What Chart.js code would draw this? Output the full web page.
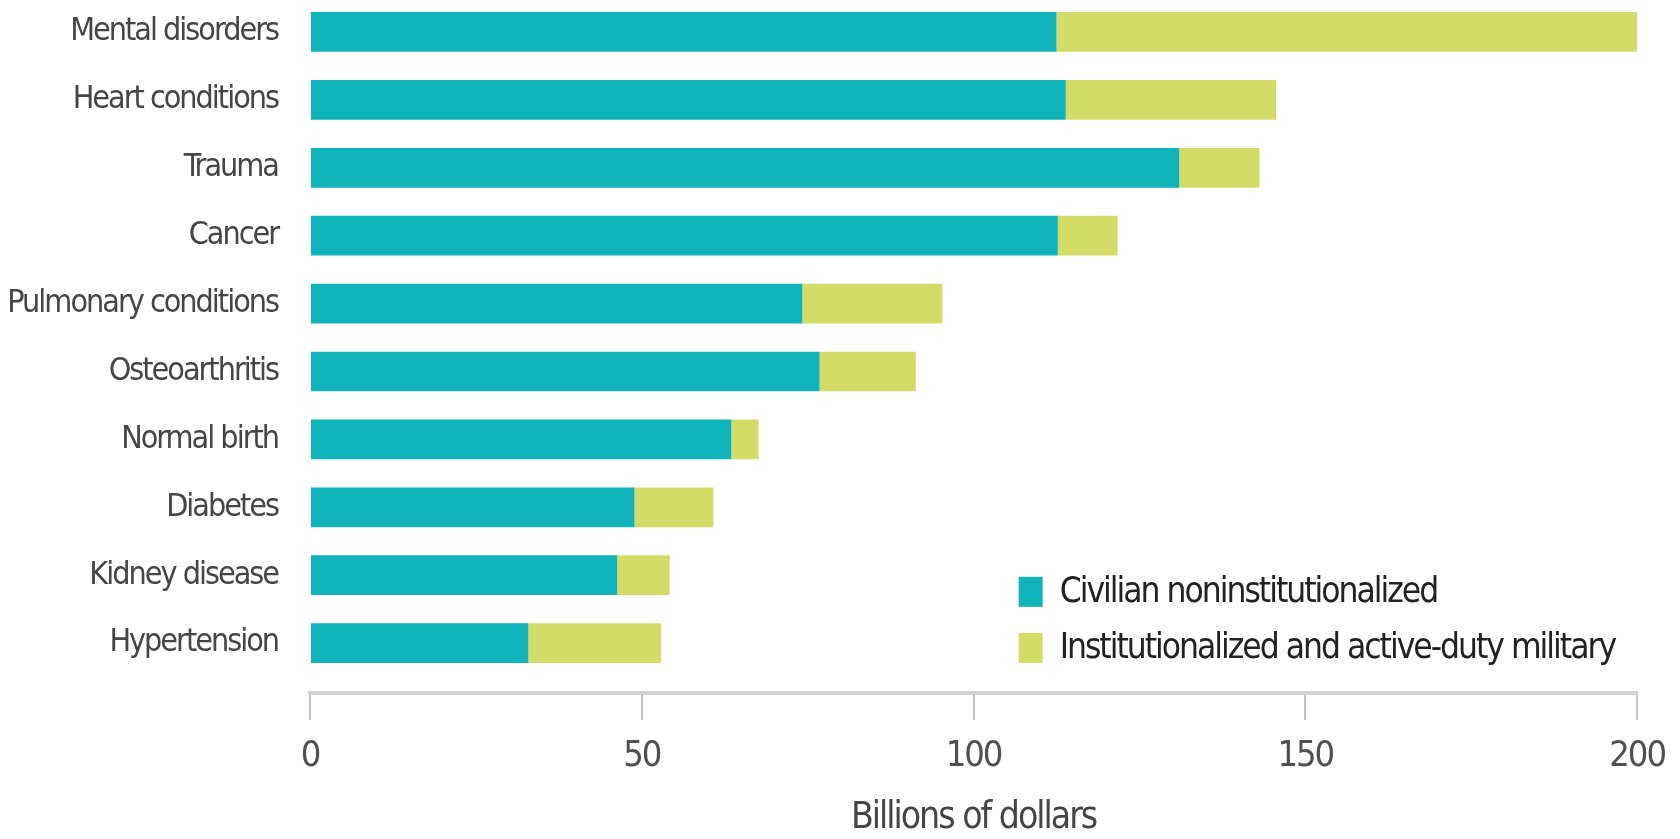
<!DOCTYPE html>
<html>
<head>
<meta charset="utf-8">
<script src="https://cdn.jsdelivr.net/npm/chart.js@4.4.1/dist/chart.umd.min.js"></script>
<style>
  html, body { margin: 0; padding: 0; background: #ffffff; }
  #wrap { width: 1680px; height: 839px; position: relative; }
</style>
</head>
<body>
<div id="wrap"><canvas id="c" width="1680" height="839"></canvas></div>
<script>
const categories = ["Mental disorders", "Heart conditions", "Trauma", "Cancer", "Pulmonary conditions",
  "Osteoarthritis", "Normal birth", "Diabetes", "Kidney disease", "Hypertension"];
const civilian = [112.5, 113.9, 131.0, 112.7, 74.2, 76.8, 63.5, 48.9, 46.3, 32.9];
const institutional = [87.5, 31.7, 12.1, 9.0, 21.1, 14.5, 4.1, 11.9, 7.9, 20.0];
const seriesNames = ["Civilian noninstitutionalized", "Institutionalized and active-duty military"];
const xTicks = [0, 50, 100, 150, 200];
const axisTitle = "Billions of dollars";

const FONT = "'Liberation Sans Narrow', 'DejaVu Sans Condensed', 'DejaVu Sans', sans-serif";
const SPACING = '-2px';

const spacingPlugin = {
  id: 'tightText',
  beforeInit(chart) { chart.ctx.letterSpacing = SPACING; },
  beforeLayout(chart) { chart.ctx.letterSpacing = SPACING; },
  beforeDraw(chart) { chart.ctx.letterSpacing = SPACING; }
};

const legendPlugin = {
  id: 'insideLegend',
  afterDraw(chart) {
    const ctx = chart.ctx;
    const area = chart.chartArea;
    const x0 = area.left + (area.right - area.left) * 0.534;
    const rows = [area.top + (area.bottom - area.top) * 0.854, area.top + (area.bottom - area.top) * 0.935];
    ctx.save();
    ctx.letterSpacing = SPACING;
    ctx.font = "35px " + FONT;
    ctx.textBaseline = 'middle';
    ctx.textAlign = 'left';
    chart.data.datasets.forEach((ds, i) => {
      const y = rows[i];
      ctx.fillStyle = ds.backgroundColor;
      ctx.fillRect(x0, y - 15, 24, 30);
      ctx.fillStyle = '#222222';
      ctx.fillText(ds.label, x0 + 41, y + 1);
    });
    ctx.restore();
  }
};

new Chart(document.getElementById('c'), {
  type: 'bar',
  data: {
    datasets: [
      { label: seriesNames[0], data: civilian.map((v, i) => ({ x: v, y: i })), backgroundColor: '#0fb3b9' },
      { label: seriesNames[1], data: institutional.map((v, i) => ({ x: v, y: i })), backgroundColor: '#d4dc68' }
    ]
  },
  options: {
    indexAxis: 'y',
    responsive: false,
    animation: false,
    devicePixelRatio: 1,
    layout: { padding: { top: 0, right: 40, bottom: 0, left: 0 } },
    datasets: { bar: { categoryPercentage: 1, barPercentage: 0.585, borderWidth: 0 } },
    plugins: { legend: { display: false }, tooltip: { enabled: false } },
    scales: {
      y: {
        type: 'linear',
        reverse: true,
        stacked: true,
        offset: false,
        min: -0.471,
        max: 9.735,
        grid: { display: false, offset: false },
        border: { display: false },
        afterBuildTicks(scale) { scale.ticks = categories.map((c, i) => ({ value: i })); },
        afterFit(scale) { scale.width = 310; scale.paddingTop = 0; scale.paddingBottom = 0; },
        ticks: {
          autoSkip: false,
          padding: 24,
          color: '#454545',
          font: { family: FONT, size: 32 },
          callback: (v) => categories[v]
        }
      },
      x: {
        type: 'linear',
        stacked: true,
        min: 0,
        max: 200,
        afterBuildTicks(scale) { scale.ticks = xTicks.map(v => ({ value: v })); },
        afterFit(scale) { scale.height = 146; },
        grid: { drawOnChartArea: false, drawTicks: true, tickLength: 27, color: '#c4c4c4', lineWidth: 2 },
        border: { display: true, color: '#d2d2d2', width: 4 },
        ticks: { padding: 15, color: '#505050', font: { family: FONT, size: 36 } },
        title: {
          display: true, text: axisTitle, color: '#454545',
          font: { family: FONT, size: 37, lineHeight: 1.0 }, padding: { top: 0, bottom: 2 }
        }
      }
    }
  },
  plugins: [spacingPlugin, legendPlugin]
});
</script>
</body>
</html>
